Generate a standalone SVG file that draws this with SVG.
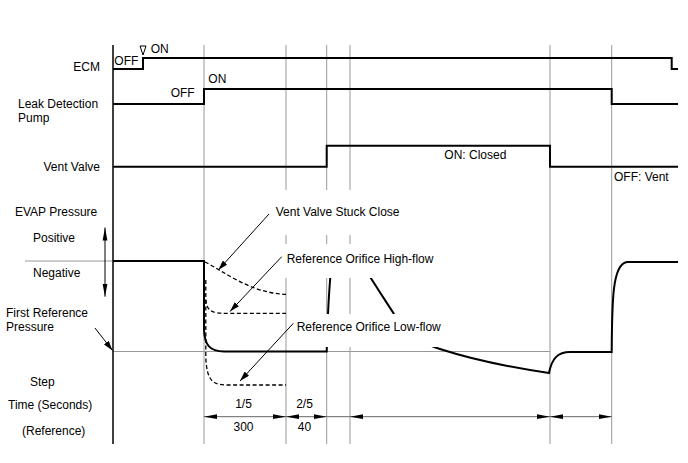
<svg xmlns="http://www.w3.org/2000/svg" width="688" height="463" viewBox="0 0 688 463">
<style>
text{font-family:"Liberation Sans",Arial,sans-serif;font-size:12px;fill:#000}
.grid{stroke:#999;stroke-width:1;fill:none}
.sig{stroke:#000;stroke-width:2;fill:none}
.dash{stroke:#000;stroke-width:1.3;fill:none;stroke-dasharray:4,2.5}
.dim{stroke:#666;stroke-width:1;fill:none}
.lead{stroke:#000;stroke-width:1;fill:none}
.mask{fill:#fff;stroke:none}
.mid{text-anchor:middle}
.end{text-anchor:end}
</style>
<defs>
<marker id="dimA" viewBox="0 0 13 6" refX="13" refY="3" markerWidth="13" markerHeight="6" markerUnits="userSpaceOnUse" orient="auto-start-reverse">
<path d="M0,0.6 L13,3 L0,5.4 z" fill="#000"/>
</marker>
<marker id="arr" viewBox="0 0 10 6" refX="10" refY="3" markerWidth="10" markerHeight="6" markerUnits="userSpaceOnUse" orient="auto">
<path d="M0,0 L10,3 L0,6 z" fill="#000"/>
</marker>
</defs>
<rect width="688" height="463" fill="#fff"/>
<g id="grid">
<line class="grid" x1="204" y1="45" x2="204" y2="444"/>
<line class="grid" x1="286" y1="45" x2="286" y2="444"/>
<line class="grid" x1="326.7" y1="45" x2="326.7" y2="444"/>
<line class="grid" x1="350" y1="45" x2="350" y2="444"/>
<line class="grid" x1="550" y1="45" x2="550" y2="444"/>
<line class="grid" x1="611.7" y1="45" x2="611.7" y2="444"/>
<line class="grid" x1="25" y1="261" x2="113" y2="261"/>
<line class="grid" x1="113" y1="351.5" x2="550" y2="351.5"/>
<line x1="113" y1="45" x2="113" y2="444" stroke="#000" stroke-width="1.5"/>
</g>
<g id="ecm">
<text class="end" x="100" y="71">ECM</text>
<path class="sig" d="M113,69 L143,69 L143,58 L671.7,58 L671.7,69 L678,69"/>
<text x="114.3" y="64.5">OFF</text>
<polygon points="140,46 146,46 143,55" fill="#fff" stroke="#000" stroke-width="1"/>
<text x="150.7" y="52.5">ON</text>
</g>
<g id="pump">
<text x="18" y="108">Leak Detection</text>
<text x="18" y="122">Pump</text>
<path class="sig" d="M113,104 L204,104 L204,89 L611.7,89 L611.7,104 L678,104"/>
<text x="170.7" y="97">OFF</text>
<text x="208.3" y="82.5">ON</text>
</g>
<g id="vent">
<text class="end" x="100" y="170.5">Vent Valve</text>
<path class="sig" d="M113,166.7 L326.7,166.7 L326.7,145.7 L550,145.7 L550,166.7 L678,166.7"/>
<text x="444.3" y="158.6">ON: Closed</text>
<text x="614" y="181">OFF: Vent</text>
</g>
<g id="pressure">
<text x="15" y="215.5">EVAP Pressure</text>
<text x="33" y="241.7">Positive</text>
<text x="33" y="277">Negative</text>
<text x="6" y="317">First Reference</text>
<text x="6" y="331.3">Pressure</text>
<path class="dash" d="M205,262 C225,272 250,293 286,294.3"/>
<path class="dash" d="M205.8,280 L205.8,300 C206.8,311 212,313.3 226,313.3 L286,313.3"/>
<path class="dash" d="M205.8,300 L205.8,358 C207,380 212,385 227,385 L286,385"/>
<path class="sig" d="M113,261 L204,261 L204,330 C204.5,345 210,351.5 224,351.5 L326.7,351.5 C327.5,320 329,290 331,270 C334,245 350,240 362,264 C375,285 385,300 394,314 C410,336 425,345 440,349 C480,362 515,368 549,373 C552,358 558,352 570,352 L611.7,352 C612,300 612.5,264 627,262 L678,262"/>
</g>
<g id="labels">
<rect class="mask" x="272" y="190" width="140" height="45"/>
<rect class="mask" x="283" y="244" width="157" height="34"/>
<rect class="mask" x="293" y="314" width="150" height="33"/>
<text x="275.7" y="216">Vent Valve Stuck Close</text>
<text x="286.7" y="263">Reference Orifice High-flow</text>
<text x="296.7" y="331">Reference Orifice Low-flow</text>
</g>
<g id="connectors">
<line class="lead" x1="269" y1="214" x2="218.3" y2="270" marker-end="url(#arr)"/>
<line class="lead" x1="281.7" y1="256.7" x2="230" y2="311.5" marker-end="url(#arr)"/>
<line class="lead" x1="293.3" y1="323.3" x2="240" y2="381" marker-end="url(#arr)"/>
<line class="lead" x1="95" y1="328" x2="112.5" y2="350.5" marker-end="url(#arr)"/>
<line class="lead" x1="105" y1="227.5" x2="105" y2="296.7" marker-start="url(#dimA)" marker-end="url(#dimA)"/>
<line class="dim" x1="204" y1="416.7" x2="286" y2="416.7" marker-start="url(#dimA)" marker-end="url(#dimA)"/>
<line class="dim" x1="286" y1="416.7" x2="326.7" y2="416.7" marker-start="url(#dimA)" marker-end="url(#dimA)"/>
<line class="dim" x1="326.7" y1="416.7" x2="350" y2="416.7"/>
<line class="dim" x1="350" y1="416.7" x2="550" y2="416.7" marker-start="url(#dimA)" marker-end="url(#dimA)"/>
<line class="dim" x1="550" y1="416.7" x2="611.7" y2="416.7" marker-start="url(#dimA)" marker-end="url(#dimA)"/>
</g>
<g id="steps">
<text x="30" y="386">Step</text>
<text x="8" y="408.6">Time (Seconds)</text>
<text x="22" y="435">(Reference)</text>
<text class="mid" x="243.5" y="408">1/5</text>
<text class="mid" x="304.5" y="408">2/5</text>
<text class="mid" x="243.5" y="431.3">300</text>
<text class="mid" x="304.5" y="431.3">40</text>
</g>
</svg>
